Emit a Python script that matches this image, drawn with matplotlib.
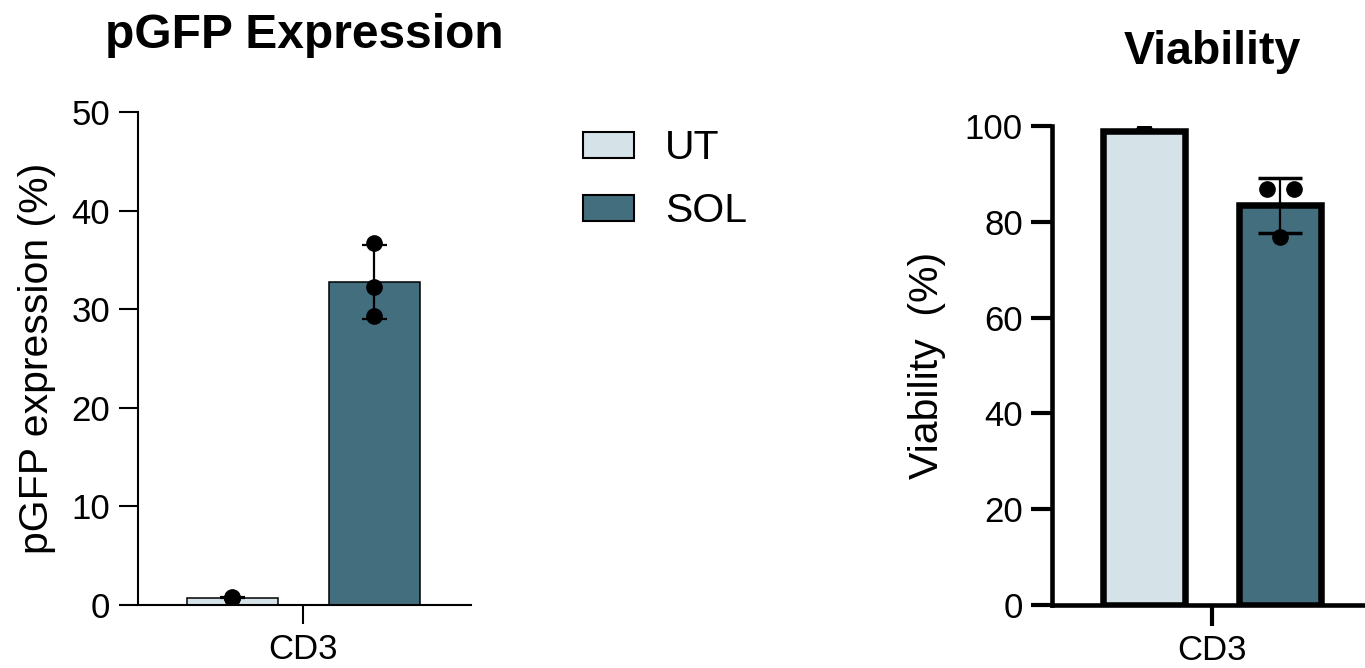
import matplotlib
matplotlib.use("Agg")
import matplotlib.pyplot as plt
from matplotlib.patches import Patch

plt.rcParams['font.family'] = ['Liberation Sans', 'DejaVu Sans']

# data
groups = ["UT", "SOL"]
category = ["CD3"]
gfp_ut = [0.8, 0.75, 0.7]
gfp_sol = [36.7, 32.3, 29.3]
via_ut = [99.0, 99.1, 98.9]
via_sol = [86.8, 86.8, 76.8]

col_ut = "#d5e3e9"
col_sol = "#436e7e"


def mean_sd(v):
    m = sum(v) / len(v)
    sd = (sum((x - m) ** 2 for x in v) / (len(v) - 1)) ** 0.5
    return m, sd


fig = plt.figure(figsize=(13.65, 6.68), dpi=100)

# ---------- left panel ----------
ax1 = fig.add_axes([138 / 1365, 63 / 668, 333 / 1365, 493 / 668])
pos = [-0.5, 0.5]
for p, vals, c in zip(pos, [gfp_ut, gfp_sol], [col_ut, col_sol]):
    m, sd = mean_sd(vals)
    ax1.bar(p, m, width=0.645, color=c, edgecolor="black", linewidth=1.1, zorder=2)
    ax1.errorbar(p, m, yerr=sd, fmt="none", ecolor="black", elinewidth=1.6,
                 capsize=9, capthick=1.6, zorder=3)
    ax1.plot([p] * len(vals), vals, "o", color="black", markersize=11, zorder=4)

ax1.set_xlim(-1.165, 1.18)
ax1.set_ylim(0, 50)
ax1.set_yticks([0, 10, 20, 30, 40, 50])
ax1.set_xticks([0])
ax1.set_xticklabels(category)
ax1.spines[["top", "right"]].set_visible(False)
for s in ["left", "bottom"]:
    ax1.spines[s].set_linewidth(1.5)
ax1.tick_params(labelsize=25, width=1.5, length=14, pad=6)
ax1.set_ylabel("pGFP expression (%)", fontsize=29.5)
ax1.yaxis.set_label_coords(-0.245, 0.5)
ax1.set_title("pGFP Expression", fontsize=34.5, fontweight="bold", pad=46)

# ---------- right panel ----------
ax2 = fig.add_axes([1052 / 1365, 63 / 668, 320 / 1365, 479 / 668])
pos2 = [-0.5, 0.5]
jit = [[0, 0, 0], [-0.1, 0.1, 0]]
dot_z = [1, 4]  # UT points sit behind the bar in the original
for p, vals, c, j, z in zip(pos2, [via_ut, via_sol], [col_ut, col_sol], jit, dot_z):
    m, sd = mean_sd(vals)
    ax2.bar(p, m, width=0.6, color=c, edgecolor="black", linewidth=4.7, zorder=2)
    ax2.plot([p + d for d in j], vals, "o", color="black", markersize=11, zorder=z)
    if z > 2:
        ax2.errorbar(p, m, yerr=sd, fmt="none", ecolor="black", elinewidth=1.6,
                     capsize=16, capthick=2.5, zorder=3)

ax2.set_xlim(-1.17, 1.17)
ax2.set_ylim(0, 100)
ax2.set_yticks([0, 20, 40, 60, 80, 100])
ax2.set_xticks([0])
ax2.set_xticklabels(category)
ax2.spines[["top", "right"]].set_visible(False)
for s in ["left", "bottom"]:
    ax2.spines[s].set_linewidth(3.3)
ax2.tick_params(labelsize=25, width=3, length=15, pad=6)
ax2.set_ylabel("Viability  (%)", fontsize=29.5)
ax2.yaxis.set_label_coords(-0.33, 0.5)
ax2.set_title("Viability", fontsize=33.5, fontweight="bold", pad=45)

# legend
handles = [Patch(facecolor=col_ut, edgecolor="black", linewidth=1.5),
           Patch(facecolor=col_sol, edgecolor="black", linewidth=1.5)]
fig.legend(handles, groups, loc="upper left", bbox_to_anchor=(583 / 1365, 1 - 129 / 668),
           frameon=False, fontsize=29.5, handlelength=1.25, handleheight=0.6,
           handletextpad=0.75, labelspacing=0.62, borderpad=0, borderaxespad=0)

fig.savefig("out.png", dpi=100)
